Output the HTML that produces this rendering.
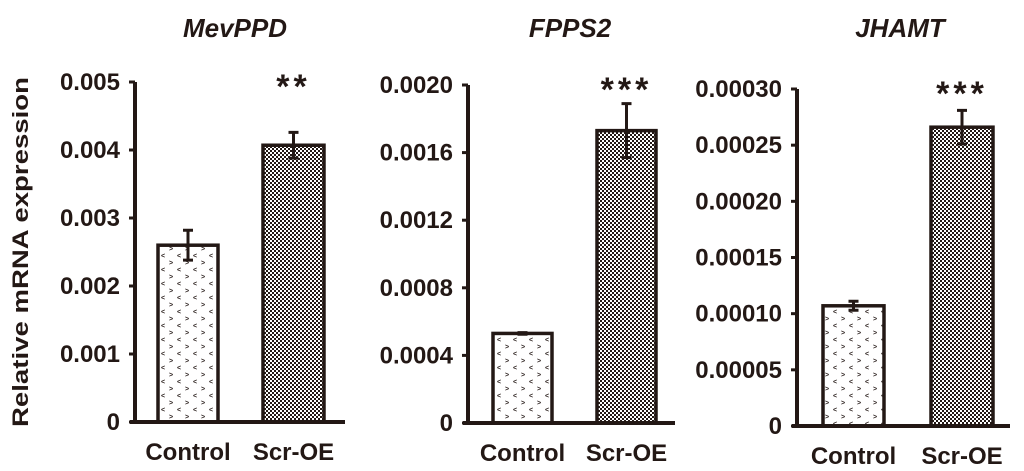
<!DOCTYPE html>
<html><head><meta charset="utf-8">
<style>
html,body{margin:0;padding:0;background:#fff;}
svg{display:block;font-family:"Liberation Sans",Arial,sans-serif;}
</style></head>
<body>
<svg id="chart" width="1024" height="471" viewBox="0 0 1024 471" xmlns="http://www.w3.org/2000/svg">
<defs>
<pattern id="checker" width="4" height="4" patternUnits="userSpaceOnUse">
<rect width="4" height="4" fill="#fff"/>
<rect x="0" y="0" width="2" height="2" fill="#231815"/>
<rect x="2" y="2" width="2" height="2" fill="#231815"/>
</pattern>
<pattern id="dots" width="16" height="14" patternUnits="userSpaceOnUse">
<rect width="16" height="14" fill="#fff"/>
<text x="1" y="6" font-size="7" font-weight="bold" fill="#231815">&lt;</text>
<text x="9" y="13" font-size="7" font-weight="bold" fill="#231815">&gt;</text>
</pattern>
</defs>
<text transform="translate(28,252) rotate(-90)" text-anchor="middle" font-size="22" font-weight="bold" fill="#231815" textLength="350" lengthAdjust="spacingAndGlyphs">Relative mRNA expression</text>
<g id="panels"></g>
</svg>
<script>
const titles = ["MevPPD", "FPPS2", "JHAMT"];
const categories = ["Control", "Scr-OE"];
const controlValues = [0.0026, 0.00053, 0.000107];
const scrValues = [0.00407, 0.00173, 0.000266];
const controlErrors = [0.00022, 0.000005, 0.000004];
const scrErrors = [0.00019, 0.00016, 0.000015];
const yMax = [0.005, 0.002, 0.0003];
const tickStep = [0.001, 0.0004, 0.00005];
const tickLabels = [
  ["0","0.001","0.002","0.003","0.004","0.005"],
  ["0","0.0004","0.0008","0.0012","0.0016","0.0020"],
  ["0","0.00005","0.00010","0.00015","0.00020","0.00025","0.00030"]
];
const stars = ["**", "***", "***"];

const layout = [
  {ax:135, top:82, base:422, axEnd:345, bars:[[158,218],[263,324]], title:235},
  {ax:468, top:85, base:423, axEnd:675, bars:[[493,552],[597,656]], title:570},
  {ax:797, top:89, base:426, axEnd:1010, bars:[[823,884],[931,993]], title:900}
];
const NS = "http://www.w3.org/2000/svg";
const root = document.getElementById("panels");
const C = "#231815";
function mk(tag, attrs, parent){
  const e = document.createElementNS(NS, tag);
  for (const k in attrs) e.setAttribute(k, attrs[k]);
  parent.appendChild(e); return e;
}
layout.forEach((L, p) => {
  const g = mk("g", {}, root);
  
  
  const y = v => L.base - (v / yMax[p]) * (L.base - L.top);
  const t = mk("text", {x:L.title, y:37, "text-anchor":"middle", "font-size":"26", "font-weight":"bold", "font-style":"italic", fill:C}, g);
  t.textContent = titles[p];
  
  
  const vals = [controlValues[p], scrValues[p]];
  const errs = [controlErrors[p], scrErrors[p]];
  vals.forEach((v, i) => {
    const [x0, x1] = L.bars[i];
    const r = mk("rect", {x:x0, y:y(v), width:x1-x0, height:L.base - y(v), fill: i ? "url(#checker)" : "url(#dots)", stroke:C, "stroke-width":"3.5"}, g);
    
    
    const cx = (x0 + x1) / 2;
    const eb = mk("path", {d:`M${cx} ${y(v+errs[i])}V${y(v-errs[i])}M${cx-5} ${y(v+errs[i])}H${cx+5}M${cx-5} ${y(v-errs[i])}H${cx+5}`, stroke:C, "stroke-width":"3", fill:"none"}, g);
    
    
    const lb = mk("text", {x:cx, y:L.base + 38, "text-anchor":"middle", "font-size":"24", "font-weight":"bold", fill:C}, g);
    lb.textContent = categories[i];
    
    
  });
  const st = mk("text", {x:(L.bars[1][0]+L.bars[1][1])/2, y:L.top + 16, "text-anchor":"middle", "font-size":"34", "font-weight":"bold", fill:C, "letter-spacing":"4"}, g);
  st.textContent = stars[p];
  
  
  const ya = mk("line", {x1:L.ax, y1:L.top, x2:L.ax, y2:L.base, stroke:C, "stroke-width":"4"}, g);
  
  
  const xa = mk("line", {x1:L.ax - 5, y1:L.base, x2:L.axEnd, y2:L.base, stroke:C, "stroke-width":"4"}, g);
  
  
  tickLabels[p].forEach((lab, k) => {
    const ty = y(k * tickStep[p]);
    const tk = mk("line", {x1:L.ax - 6, y1:ty, x2:L.ax, y2:ty, stroke:C, "stroke-width":"3"}, g);
    
    
    const tl = mk("text", {x:L.ax - 15, y:ty + 8, "text-anchor":"end", "font-size":"24", "font-weight":"bold", fill:C}, g);
    tl.textContent = lab;
    
    
  });
});
</script>
</body></html>
